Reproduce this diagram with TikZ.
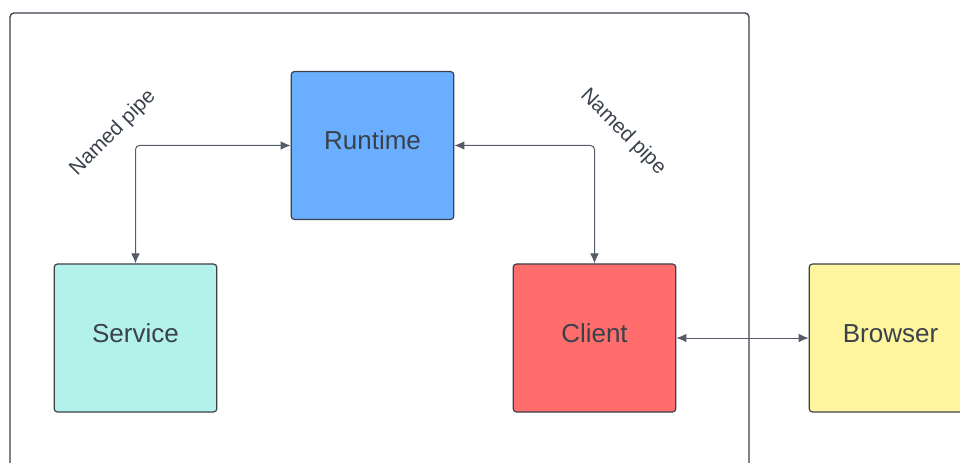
\documentclass[tikz,border=0pt]{standalone}
\usepackage{fontspec}
\setmainfont{Liberation Sans}
\usetikzlibrary{arrows.meta}
\definecolor{runtimeblue}{HTML}{6AAFFF}
\definecolor{servicemint}{HTML}{B3F2EA}
\definecolor{clientred}{HTML}{FF6D6D}
\definecolor{browseryellow}{HTML}{FFF59E}
\definecolor{inkgray}{HTML}{3A414A}
\definecolor{linegray}{HTML}{555C68}

\begin{document}
\begin{tikzpicture}[x=0.75pt, y=-0.75pt,
  every node/.style={font=\fontsize{19.5}{22}\selectfont, text=inkgray},
  block/.style={draw=inkgray, line width=0.9pt, rounded corners=2.5pt,
    minimum width=122pt, minimum height=111pt, inner sep=0pt,
    text height=14pt, text depth=7.5pt},
  conn/.style={draw=linegray, line width=0.75pt, rounded corners=3pt,
    {Latex[length=7.5pt,width=6.5pt]}-{Latex[length=7.5pt,width=6.5pt]}},
  pipelabel/.style={font=\fontsize{15.5}{18}\selectfont}]
  \useasboundingbox (0,0) rectangle (960,463);
  \clip (0,0) rectangle (960,463);
  % outer frame
  \draw[inkgray, line width=1pt, rounded corners=3pt] (10,13) rectangle (749,480);
  \node[block, fill=runtimeblue] (Runtime) at (372.5,145.5) {Runtime};
  \node[block, fill=servicemint] (Service) at (135.5,338) {Service};
  \node[block, fill=clientred] (Client) at (594.5,338) {Client};
  \node[block, fill=browseryellow] (Browser) at (890.5,338) {Browser};
  \draw[conn] (Service.north) |- (Runtime.west);
  \draw[conn] (Runtime.east) -| (Client.north);
  \draw[conn] (Client.east) -- (Browser.west);
  \node[pipelabel, rotate=45] (pipeSR) at (113,133) {Named pipe};
  \node[pipelabel, rotate=-45] (pipeRC) at (623,132) {Named pipe};
\end{tikzpicture}
\end{document}
